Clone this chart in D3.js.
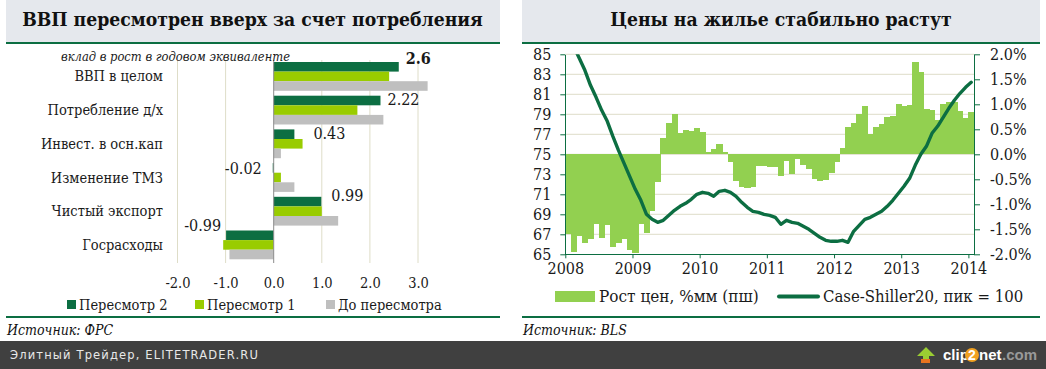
<!DOCTYPE html>
<html>
<head>
<meta charset="utf-8" />
<title>ВВП и цены на жилье</title>
<script src="https://cdnjs.cloudflare.com/ajax/libs/d3/7.8.5/d3.min.js"></script>
<style>
  html, body { margin: 0; padding: 0; background: #fff; }
  svg { display: block; }
  text { font-family: "DejaVu Serif Condensed", "DejaVu Serif", "Liberation Serif", serif; fill: #1a1a1a; }
  .domain { shape-rendering: crispEdges; }
</style>
</head>
<body>
<svg id="chart" width="1046" height="369"></svg>
<script>
// left panel
const categories = ['ВВП в целом', 'Потребление д/х', 'Инвест. в осн.кап', 'Изменение ТМЗ', 'Чистый экспорт', 'Госрасходы']
const revision2 = [2.6, 2.22, 0.43, -0.02, 0.99, -0.99]
const revision1 = [2.4, 1.74, 0.6, 0.15, 1.0, -1.05]
const preRevision = [3.2, 2.28, 0.15, 0.43, 1.34, -0.92]
const seriesNames = ['Пересмотр 2', 'Пересмотр 1', 'До пересмотра']
const contribTicks = [-2, -1, 0, 1, 2, 3]

// right panel, monthly 2008-01 .. 2014-01
const yearLabels = ['2008', '2009', '2010', '2011', '2012', '2013', '2014']
const priceGrowth = [
  -1.6, -1.95, -1.63, -1.77, -1.69, -1.39, -1.67, -1.41, -1.85, -1.78, -1.69, -1.91,
  -1.98, -1.39, -1.58, -1.13, -0.55, 0.33, 0.63, 0.81, 0.42, 0.49, 0.47, 0.52,
  0.45, 0.04, 0.1, 0.2, 0.04, -0.16, -0.53, -0.66, -0.67, -0.65, -0.23, -0.23,
  -0.25, -0.26, -0.43, -0.13, -0.39, -0.09, -0.21, -0.3, -0.49, -0.53, -0.51, -0.38,
  -0.15, 0.13, 0.55, 0.63, 0.81, 0.97, 0.4, 0.55, 0.61, 0.74, 0.77, 1.01,
  0.97, 0.99, 1.85, 1.64, 0.9, 0.88, 0.69, 1.01, 1.04, 1.05, 0.87, 0.73,
  0.85
]
const caseShiller = [
  87.1, 85.8, 84.6, 83.4, 81.9, 80.7, 79.4, 78.3, 76.8, 75.4, 74.1, 72.8,
  71.5, 70.4, 69, 68.5, 68.2, 68.4, 68.9, 69.4, 69.8, 70.1, 70.5, 71,
  71.2, 71.1, 70.8, 71.3, 71.4, 71.2, 70.8, 70.2, 69.7, 69.3, 69.2, 69,
  68.9, 68.7, 68, 68.4, 68.2, 68.1, 67.8, 67.5, 67.1, 66.7, 66.4, 66.3,
  66.3, 66.4, 66.2, 67.3, 67.9, 68.5, 68.7, 69, 69.3, 69.8, 70.4, 71.1,
  71.8, 72.6, 73.9, 75, 75.8, 77.1, 77.8, 78.7, 79.6, 80.4, 81.1, 81.7,
  82.2
]
const indexTicks = [65, 67, 69, 71, 73, 75, 77, 79, 81, 83, 85]
const growthTicks = [-2, -1.5, -1, -0.5, 0, 0.5, 1, 1.5, 2]

const darkGreen = '#0c6e42'
const limeGreen = '#99cc00'
const lightGray = '#bfbfbf'
const areaGreen = '#92d050'
const gridColor = '#deddc8'

const svg = d3.select('#chart')

// source chart prints a plain hyphen, d3 gives U+2212
const oneDecimal = d => d3.format('.1f')(d).replace('\u2212', '-')

function panelFrame(x0, x1, title, source, titleX) {
  svg.append('rect').attr('x', x0).attr('y', 0).attr('width', x1 - x0).attr('height', 42).attr('fill', '#e5e8ed')
  svg.append('rect').attr('x', x0).attr('y', 42).attr('width', x1 - x0).attr('height', 2).attr('fill', darkGreen)
  svg.append('rect').attr('x', x0).attr('y', 316).attr('width', x1 - x0).attr('height', 2).attr('fill', darkGreen)
  svg.append('text').attr('x', titleX).attr('y', 26).attr('text-anchor', 'middle')
    .style('font-size', '19.2px').style('font-weight', 'bold').style('fill', '#111').text(title)
  svg.append('text').attr('x', x0 + 1).attr('y', 335)
    .style('font-size', '14px').style('font-style', 'italic').style('fill', '#111').text(source)
}

panelFrame(6, 500, 'ВВП пересмотрен вверх за счет потребления', 'Источник: ФРС', 252.5)
panelFrame(522, 1040, 'Цены на жилье стабильно растут', 'Источник: BLS', 781)

// ---- left chart
const contribX = d3.scaleLinear().domain([-2, 3]).range([177.5, 418])
const rowY = d3.scaleBand().domain(categories).range([59.6, 261.8])
const seriesY = d3.scaleBand().domain([0, 1, 2]).range([0, 28.8])
const barColors = [darkGreen, limeGreen, lightGray]

const leftAxis = svg.append('g').attr('transform', 'translate(0,263)')
  .call(d3.axisBottom(contribX).tickValues(contribTicks).tickFormat(oneDecimal).tickSize(0).tickPadding(15))
leftAxis.select('.domain').remove()
leftAxis.selectAll('text').style('font-size', '14.5px')

svg.append('g').selectAll('line')
  .data(contribTicks.filter(d => d !== 0)).enter().append('line')
  .attr('x1', d => contribX(d)).attr('x2', d => contribX(d))
  .attr('y1', 60).attr('y2', 263)
  .attr('stroke', gridColor).attr('stroke-width', 1)

;[revision2, revision1, preRevision].forEach(function(values, s) {
  svg.append('g').selectAll('rect')
    .data(values).enter().append('rect')
    .attr('x', d => Math.min(contribX(0), contribX(d)))
    .attr('y', (d, i) => rowY(categories[i]) + 2.4 + seriesY(s))
    .attr('width', d => Math.abs(contribX(d) - contribX(0)))
    .attr('height', seriesY.bandwidth())
    .attr('fill', barColors[s])
})

svg.append('line').attr('x1', contribX(0)).attr('x2', contribX(0)).attr('y1', 60).attr('y2', 263)
  .attr('stroke', '#8c8c8c').attr('stroke-width', 1)

svg.append('g').selectAll('text')
  .data(categories).enter().append('text')
  .attr('x', 163).attr('y', d => rowY(d) + rowY.bandwidth() / 2 + 5)
  .attr('text-anchor', 'end').style('font-size', '14.5px').text(d => d)

svg.append('text').attr('x', 61).attr('y', 61).style('font-size', '12.8px').style('font-style', 'italic').text('вклад в рост в годовом эквиваленте')

// label nudges relative to bar end and row centre
const labelDx = [7, 7, 19, -11, 10, -5]
const labelDy = [-12, -5, -5, -4, -10, -14]
svg.append('g').selectAll('text')
  .data(revision2).enter().append('text')
  .attr('x', (d, i) => contribX(d) + labelDx[i])
  .attr('y', (d, i) => rowY(categories[i]) + rowY.bandwidth() / 2 + labelDy[i])
  .attr('text-anchor', d => d < 0 ? 'end' : 'start')
  .style('font-size', '16px')
  .style('font-weight', (d, i) => i === 0 ? 'bold' : 'normal')
  .text(d => d)

const legendX = [67, 195, 326]
seriesNames.forEach(function(name, i) {
  svg.append('rect').attr('x', legendX[i]).attr('y', 300).attr('width', 9).attr('height', 9).attr('fill', barColors[i])
  svg.append('text').attr('x', legendX[i] + 12).attr('y', 310).style('font-size', '14.5px').text(name)
})

// ---- right chart
const plotTop = 54.3, plotBottom = 254.3
const monthX = d3.scaleLinear().domain([0, priceGrowth.length]).range([565.3, 974])
const indexY = d3.scaleLinear().domain([65, 85]).range([plotBottom, plotTop])
const growthY = d3.scaleLinear().domain([-2, 2]).range([plotBottom, plotTop])

svg.append('g').selectAll('line')
  .data(indexTicks.slice(1)).enter().append('line')
  .attr('x1', monthX(0)).attr('x2', monthX(priceGrowth.length))
  .attr('y1', d => indexY(d)).attr('y2', d => indexY(d))
  .attr('stroke', gridColor).attr('stroke-width', 1)

svg.append('g').selectAll('rect')
  .data(priceGrowth).enter().append('rect')
  .attr('x', (d, i) => monthX(i))
  .attr('y', d => Math.min(growthY(d), growthY(0)))
  .attr('width', monthX(1) - monthX(0) + 0.5)
  .attr('height', d => Math.abs(growthY(d) - growthY(0)))
  .attr('fill', areaGreen)
  .attr('shape-rendering', 'crispEdges')

const defs = svg.append('defs')
defs.append('clipPath').attr('id', 'plotClip').append('rect')
  .attr('x', monthX(0)).attr('y', plotTop).attr('width', monthX(priceGrowth.length) - monthX(0)).attr('height', plotBottom - plotTop)

const shillerLine = d3.line().x((d, i) => monthX(i + 0.5)).y(d => indexY(d))
svg.append('path').datum(caseShiller)
  .attr('d', shillerLine)
  .attr('clip-path', 'url(#plotClip)')
  .attr('fill', 'none').attr('stroke', darkGreen).attr('stroke-width', 3.4)
  .attr('stroke-linejoin', 'round').attr('stroke-linecap', 'round')

function styleAxis(g, size) {
  g.selectAll('.domain, .tick line').attr('stroke', darkGreen)
  g.selectAll('text').style('font-size', size)
}

svg.append('g').attr('transform', `translate(${monthX(0)},0)`)
  .call(d3.axisLeft(indexY).tickValues(indexTicks).tickSize(5).tickSizeOuter(0).tickPadding(9))
  .call(styleAxis, '16px')

const rightAxis = svg.append('g').attr('transform', `translate(${monthX(priceGrowth.length)},0)`)
  .call(d3.axisRight(growthY).tickValues(growthTicks).tickFormat(d => oneDecimal(d) + '%').tickSize(6).tickSizeOuter(0).tickPadding(10))
  .call(styleAxis, '16px')

const monthAxis = svg.append('g').attr('transform', `translate(0,${plotBottom})`)
  .call(d3.axisBottom(monthX).tickValues(yearLabels.map((d, i) => i * 12))
    .tickFormat((d, i) => yearLabels[i]).tickSize(4).tickSizeOuter(0).tickPadding(4))
  .call(styleAxis, '16px')

svg.append('rect').attr('x', 555).attr('y', 291).attr('width', 40).attr('height', 11).attr('fill', areaGreen)
svg.append('text').attr('x', 599).attr('y', 302).style('font-size', '17px').text('Рост цен, %мм (пш)')
svg.append('line').attr('x1', 779).attr('x2', 818).attr('y1', 296.5).attr('y2', 296.5)
  .attr('stroke', darkGreen).attr('stroke-width', 4).attr('stroke-linecap', 'round')
svg.append('text').attr('x', 823).attr('y', 302).style('font-size', '16.6px').text('Case-Shiller20, пик = 100')

// ---- footer strip
svg.append('rect').attr('x', 0).attr('y', 341).attr('width', 1046).attr('height', 28).attr('fill', '#404040')
svg.append('text').attr('x', 10).attr('y', 359)
  .style('font-family', '"DejaVu Sans", sans-serif').style('font-size', '11.5px').style('letter-spacing', '1.15px')
  .style('fill', '#e8e8e8').text('Элитный Трейдер, ELITETRADER.RU')

const logo = svg.append('g')
logo.append('path').attr('d', 'M923 356h-6l9-9 9 9h-6v6h-6z').attr('fill', '#9acd32')
logo.append('rect').attr('x', 921).attr('y', 359).attr('width', 9).attr('height', 4).attr('fill', '#e8741e')
logo.append('text').attr('x', 943).attr('y', 360)
  .style('font-family', '"Liberation Sans", sans-serif').style('font-size', '15px').style('font-weight', 'bold')
  .style('fill', '#fff').text('clip')
logo.append('circle').attr('cx', 972).attr('cy', 355).attr('r', 7).attr('fill', '#f0a020')
logo.append('text').attr('x', 972).attr('y', 360).attr('text-anchor', 'middle')
  .style('font-family', '"Liberation Sans", sans-serif').style('font-size', '14px').style('font-weight', 'bold')
  .style('fill', '#fff').text('2')
logo.append('text').attr('x', 979).attr('y', 360)
  .style('font-family', '"Liberation Sans", sans-serif').style('font-size', '15px').style('font-weight', 'bold')
  .style('fill', '#fff').text('net')
logo.append('text').attr('x', 1002).attr('y', 360)
  .style('font-family', '"Liberation Sans", sans-serif').style('font-size', '15px').style('font-weight', 'bold')
  .style('fill', '#999').text('.com')
</script>
</body>
</html>
